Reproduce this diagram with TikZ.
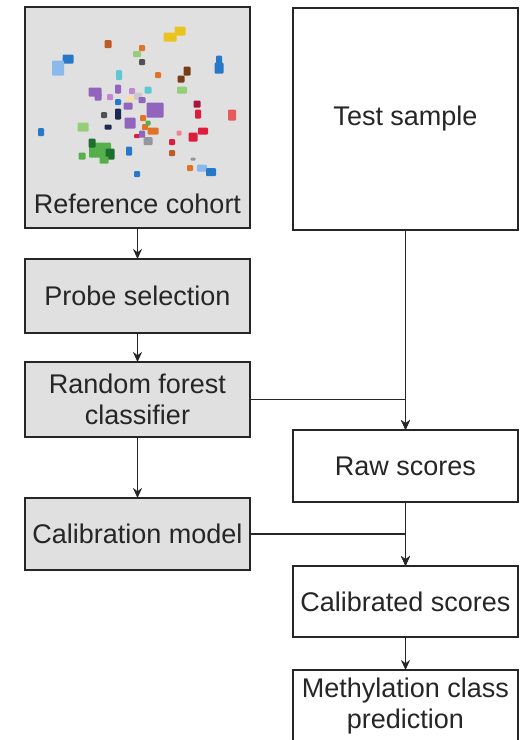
\documentclass[tikz,border=0pt]{standalone}
\usepackage{fontspec}
\setmainfont{Liberation Sans}
\usepackage{xcolor}
\usetikzlibrary{positioning, arrows.meta, calc}
\definecolor{boxgray}{RGB}{224,224,224}
\definecolor{inkgray}{RGB}{38,38,38}
% colours of the cohort map
\definecolor{sblue}{RGB}{40,120,200}
\definecolor{slblue}{RGB}{140,185,235}
\definecolor{syellow}{RGB}{235,195,30}
\definecolor{sbrown}{RGB}{120,60,20}
\definecolor{sbrownor}{RGB}{190,90,40}
\definecolor{sorange}{RGB}{225,115,40}
\definecolor{slgreen}{RGB}{150,205,120}
\definecolor{sgreen}{RGB}{85,175,75}
\definecolor{sdgreen}{RGB}{30,110,45}
\definecolor{steal}{RGB}{95,200,210}
\definecolor{spurple}{RGB}{145,100,190}
\definecolor{slpurple}{RGB}{195,135,210}
\definecolor{sred}{RGB}{220,30,60}
\definecolor{sdred}{RGB}{170,20,60}
\definecolor{ssalmon}{RGB}{230,90,90}
\definecolor{spink}{RGB}{240,130,150}
\definecolor{snavy}{RGB}{30,40,80}
\definecolor{sdgray}{RGB}{80,80,85}
\definecolor{sgray}{RGB}{150,150,160}
\definecolor{slgray}{RGB}{200,200,205}
\definecolor{speach}{RGB}{250,220,170}

\begin{document}
\begin{tikzpicture}[x=1pt, y=-1pt,
  box/.style={rectangle, draw=inkgray, fill=white, line width=1.9pt, align=center,
    minimum width=225pt, inner sep=0pt, outer sep=0pt, text=inkgray,
    font=\fontsize{27}{31}\selectfont},
  graybox/.style={box, fill=boxgray},
  link/.style={-{Stealth[length=10pt, width=9pt]}, line width=1.7pt, draw=inkgray}
]
  \useasboundingbox (0,0) rectangle (530,740);

  % left column
  \node[graybox, minimum height=221pt] (cohort) at (137.5,117.5) {};
  \node[anchor=base, text=inkgray, font=\fontsize{27}{31}\selectfont] (cohorttxt)
    at ([yshift=15pt]cohort.south) {Reference cohort};
  \node[graybox, minimum height=74pt, below=31pt of cohort] (probe) {Probe selection};
  \node[graybox, minimum height=75pt, below=29pt of probe] (forest) {Random forest\\classifier};
  \node[graybox, minimum height=72pt, below=61pt of forest] (calib) {Calibration model};

  % right column
  \node[box, minimum height=222pt] (test) at (405.5,119) {Test sample};
  \node[box, minimum height=72pt, below=200pt of test] (raw) {Raw scores};
  \node[box, minimum height=71pt, below=64pt of raw] (calscores) {Calibrated scores};
  \node[box, minimum height=72pt, below=33pt of calscores] (methyl) {Methylation class\\prediction};

  % cohort map
  \foreach \px/\py/\pc/\pw/\ph in {
      170/37/syellow/13/9, 180/31/syellow/11/9, 108/44/sbrownor/7/8,
      142/48/sorange/6/6, 137/54/slgreen/8/6, 142/62/sdgray/6/6,
      68/59/sblue/11/9, 58/68/slblue/12/15, 219/60/sblue/6/9, 219/68/sblue/9/11,
      119/75/steal/6/10, 158/75/sorange/6/6, 187/71/sbrown/7/9, 181/79/sbrown/7/7,
      182/90/slgreen/10/7, 148/90/steal/7/7, 95/92/spurple/13/9, 98/97/spurple/7/7,
      118/89/spurple/6/9, 110/97/slpurple/6/6, 132/91/slpurple/6/6,
      118/102/sblue/6/6, 130/99/speach/7/6, 138/96/slgray/8/7,
      128/106/spurple/9/7, 142/100/spurple/7/6, 155/110/spurple/17/15,
      197/104/sdred/7/7, 198/114/sred/6/9, 232/115/ssalmon/8/11,
      104/115/sdgray/6/6, 118/114/snavy/6/11, 108/127/snavy/7/5,
      83/127/slgreen/11/9, 130/123/spurple/11/11, 143/118/sorange/6/6,
      145/127/sorange/6/6, 148/123/sgreen/5/5, 153/131/sorange/11/7,
      41/132/sblue/6/8, 137/136/sred/6/4, 142/134/spurple/6/7,
      148/141/sgray/9/8, 179/133/spink/5/5, 193/137/sred/9/9,
      203/131/sred/10/7, 172/142/sred/6/6, 172/153/sbrownor/6/6,
      193/159/sgray/5/3, 190/168/sorange/6/6, 202/168/slblue/10/7,
      211/172/sblue/10/8, 137/174/sblue/6/6, 129/151/sblue/6/9,
      100/150/sgreen/22/15, 92/143/sdgreen/7/9, 110/154/sdgreen/9/11,
      104/160/sgreen/9/7, 82/156/sgreen/7/7}
    \fill[\pc, rounded corners=1pt] (\px-\pw/2,\py-\ph/2) rectangle +(\pw,\ph);

  % connectors
  \draw[link] (cohort) -- (probe);
  \draw[link] (probe) -- (forest);
  \draw[link] (forest) -- (calib);
  \draw[link] (test) -- (raw);
  \draw[link] (forest.east) -| (raw.north);
  \draw[link] (raw) -- (calscores);
  \draw[link] (calib.east) -| (calscores.north);
  \draw[link] (calscores) -- (methyl);
\end{tikzpicture}
\end{document}
